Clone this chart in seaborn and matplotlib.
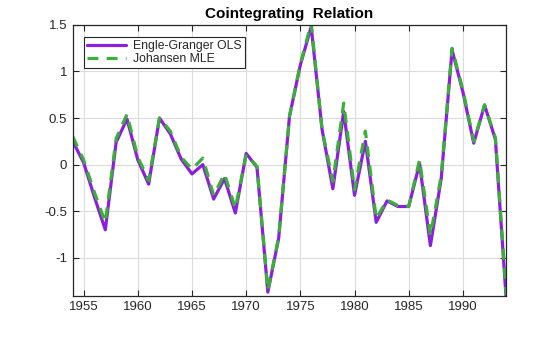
import matplotlib
matplotlib.use("Agg")
import matplotlib.pyplot as plt
import seaborn as sns
import numpy as np

years = list(range(1954, 1995))

engle_granger_ols = [
    0.25, 0.02, -0.35, -0.70, 0.24, 0.49, 0.05, -0.21, 0.50, 0.33,
    0.06, -0.10, 0.00, -0.37, -0.15, -0.52, 0.12, -0.03, -1.37, -0.79,
    0.52, 1.07, 1.48, 0.38, -0.26, 0.57, -0.33, 0.25, -0.62, -0.39,
    -0.45, -0.45, 0.01, -0.87, -0.15, 1.23, 0.78, 0.23, 0.64, 0.27,
    -1.45,
]

johansen_mle = [
    0.30, 0.05, -0.30, -0.62, 0.28, 0.54, 0.08, -0.17, 0.50, 0.36,
    0.08, -0.05, 0.07, -0.33, -0.10, -0.47, 0.11, -0.02, -1.35, -0.78,
    0.52, 1.08, 1.52, 0.38, -0.18, 0.66, -0.27, 0.36, -0.58, -0.38,
    -0.44, -0.45, 0.05, -0.76, -0.12, 1.25, 0.80, 0.25, 0.64, 0.29,
    -1.40,
]

series_names = ["Engle-Granger OLS", "Johansen MLE"]
x_ticks = [1955, 1960, 1965, 1970, 1975, 1980, 1985, 1990]
y_ticks = [-1, -0.5, 0, 0.5, 1, 1.5]
y_tick_labels = ["-1", "-0.5", "0", "0.5", "1", "1.5"]

sns.set_theme(style="white")
plt.rcParams["font.family"] = ["Liberation Sans", "DejaVu Sans"]

fig = plt.figure(figsize=(5.6, 3.37), dpi=100)
ax = fig.add_axes([0.130, 0.122, 0.774, 0.804])

purple = "#8a1fdc"
green = "#3cae3a"

sns.lineplot(x=years, y=engle_granger_ols, ax=ax, color=purple,
             linewidth=2.3, label=series_names[0])
sns.lineplot(x=years, y=johansen_mle, ax=ax, color=green,
             linewidth=2.3, linestyle=(0, (3.4, 2.6)), label=series_names[1])

ax.set_xlim(1954, 1994)
ax.set_ylim(-1.41, 1.5)
ax.set_xticks(x_ticks)
ax.set_yticks(y_ticks)
ax.set_yticklabels(y_tick_labels)

axis_col = "#262626"
ax.grid(True, color="#dcdcdc", linewidth=0.8)
ax.set_axisbelow(True)
for side in ["left", "right", "top", "bottom"]:
    ax.spines[side].set_visible(True)
    ax.spines[side].set_color(axis_col)
    ax.spines[side].set_linewidth(0.9)
ax.tick_params(axis="both", direction="in", length=4, width=0.8,
               colors=axis_col, labelsize=9.5, top=True, right=True,
               bottom=True, left=True, pad=4)
for lbl in ax.get_xticklabels() + ax.get_yticklabels():
    lbl.set_color(axis_col)

ax.set_title("Cointegrating  Relation", fontsize=11, fontweight="bold",
             color="black", pad=5)

leg = ax.legend(loc="upper left", bbox_to_anchor=(0.025, 0.955),
                fontsize=8.8, frameon=True, fancybox=False,
                edgecolor=axis_col, framealpha=1, handlelength=3.2,
                borderpad=0.25, labelspacing=0.05, handletextpad=0.6,
                borderaxespad=0)
leg.get_frame().set_linewidth(0.8)

fig.savefig("out.png", dpi=100)
